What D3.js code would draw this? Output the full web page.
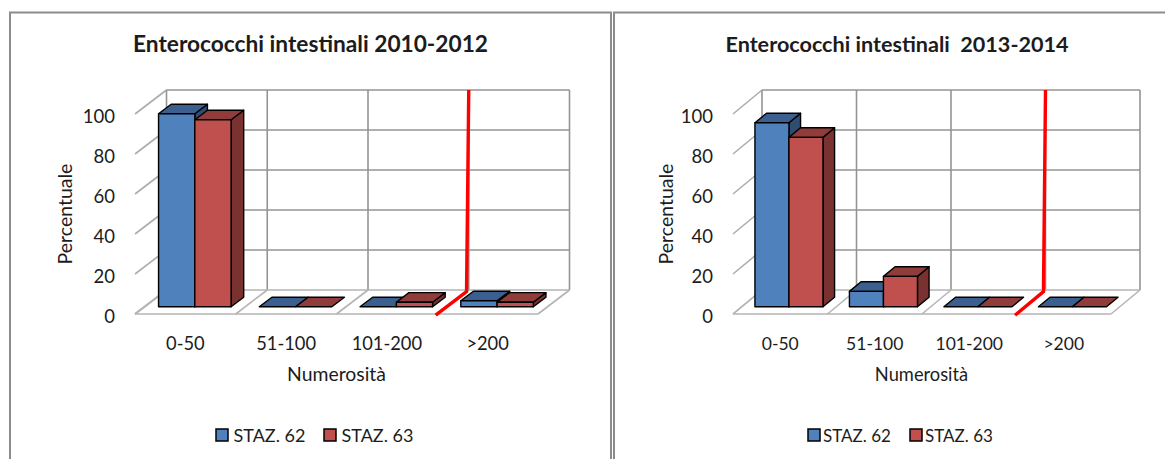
<!DOCTYPE html>
<html>
<head>
<meta charset="utf-8">
<script src="https://d3js.org/d3.v7.min.js"></script>
<style>
  html, body { margin: 0; padding: 0; background: #fff; }
  svg { display: block; }
  text { font-family: Lato, "Open Sans", sans-serif; fill: #1c1c1c; white-space: pre; }
</style>
</head>
<body>
<div id="chart"></div>
<script>
const categories = ["0-50", "51-100", "101-200", ">200"];
const seriesNames = ["STAZ. 62", "STAZ. 63"];
const yTicks = [0, 20, 40, 60, 80, 100];

const staz62First = [96.5, 0, 0, 3];
const staz63First = [93.5, 0, 2.3, 2.3];
const staz62Second = [92, 7.7, 0, 0];
const staz63Second = [84.7, 15.2, 0, 0];

const colors = {
  "STAZ. 62": {front: "#4f81bd", top: "#3b5f8e", side: "#2f4d72"},
  "STAZ. 63": {front: "#c0504d", top: "#903c3a", side: "#7a3230"}
};

const svg = d3.select("#chart").append("svg")
    .attr("width", 1165)
    .attr("height", 459);

function drawChart(config, values) {
  const g = svg.append("g");

  // panel border
  g.append("path")
      .attr("d", `M${config.frameLeft},459V12.5H${config.frameRight}V459`)
      .attr("fill", "none")
      .attr("stroke", "#8c8c8c")
      .attr("stroke-width", 2);

  const xScale = d3.scaleBand()
      .domain(categories)
      .range([config.left, config.right])
      .paddingInner(0.28)
      .paddingOuter(0.14);
  const xGroup = d3.scaleBand()
      .domain(seriesNames)
      .range([0, xScale.bandwidth()]);
  const yScale = d3.scaleLinear()
      .domain([0, 100])
      .range([314, 114]);

  // depth goes from 0 (front edge of the floor) to 1 (back wall)
  const px = (x, depth) => x + depth * config.depthX;
  const py = (v, depth) => yScale(v) - depth * 24;
  const line = (x1, v1, d1, x2, v2, d2) => `M${px(x1, d1)},${py(v1, d1)}L${px(x2, d2)},${py(v2, d2)}`;

  const step = xScale.step();
  const boundaries = d3.range(categories.length + 1).map(i => config.left + i * step);
  const gridColor = "#949494";

  const walls = g.append("g")
      .attr("fill", "none")
      .attr("stroke", gridColor)
      .attr("stroke-width", 1.6);

  yTicks.forEach(t => {
    if (t > 0) walls.append("path").attr("d", line(config.left, t, 1, config.right, t, 1));
    walls.append("path").attr("d", line(config.left, t, 0, config.left, t, 1)).attr("stroke", "#adadad");
  });
  boundaries.forEach(b => {
    walls.append("path").attr("d", line(b, 0, 0, b, 0, 1)).attr("stroke", "#b5b5b5");
    walls.append("path").attr("d", line(b, 0, 1, b, 100, 1));
  });
  walls.append("path")
      .attr("d", line(config.left, 0, 1, config.right, 0, 1))
      .attr("stroke", "#b5b5b5");
  walls.append("path")
      .attr("d", line(config.left, 0, 0, config.right, 0, 0))
      .attr("stroke", "#b5b5b5");

  // bars, left to right so the sides overlap correctly
  const d0 = 0.3, d1 = 0.7;
  categories.forEach((cat, i) => {
    seriesNames.forEach((name, s) => {
      const x0 = xScale(cat) + xGroup(name);
      const x1 = x0 + xGroup.bandwidth();
      const v = values[s][i];
      const c = colors[name];
      const bar = g.append("g").attr("stroke", "#000").attr("stroke-width", 1.4).attr("stroke-linejoin", "round");
      const poly = (pts, fill) => bar.append("polygon")
          .attr("points", pts.map(p => [px(p[0], p[2]), py(p[1], p[2])].join(",")).join(" "))
          .attr("fill", fill);
      if (v > 0) {
        poly([[x1, 0, d0], [x1, 0, d1], [x1, v, d1], [x1, v, d0]], c.side);
      }
      poly([[x0, v, d0], [x0, v, d1], [x1, v, d1], [x1, v, d0]], c.top);
      if (v > 0) {
        poly([[x0, 0, d0], [x1, 0, d0], [x1, v, d0], [x0, v, d0]], c.front);
      }
    });
  });

  // threshold line between 101-200 and >200
  const redX = boundaries[3];
  g.append("path")
      .attr("d", `M${px(redX, -0.05)},${py(0, -0.05)}L${px(redX, 0.93)},${py(0, 0.93)}L${px(redX, 1)},${py(100, 1)}`)
      .attr("fill", "none")
      .attr("stroke", "#ff0000")
      .attr("stroke-width", 3.4);

  // y axis labels
  g.append("g").selectAll("text")
    .data(yTicks)
    .join("text")
      .attr("x", config.left - 20)
      .attr("y", d => yScale(d) + 9)
      .attr("text-anchor", "end")
      .attr("font-size", 18.5)
      .text(d => d);

  // x axis labels
  g.append("g").selectAll("text")
    .data(categories)
    .join("text")
      .attr("x", d => xScale(d) + xScale.bandwidth() / 2)
      .attr("y", 349.5)
      .attr("text-anchor", "middle")
      .attr("font-size", config.xFont)
      .text(d => d);

  g.append("text")
      .attr("x", config.titleX)
      .attr("y", 52)
      .attr("text-anchor", "middle")
      .attr("font-size", config.titleFont)
      .attr("font-weight", "bold")
      .text(config.title);

  g.append("text")
      .attr("x", config.xTitleX)
      .attr("y", 381)
      .attr("text-anchor", "middle")
      .attr("font-size", config.xTitleFont)
      .text("Numerosità");

  g.append("text")
      .attr("transform", `translate(${config.yTitleX},214) rotate(-90)`)
      .attr("text-anchor", "middle")
      .attr("font-size", 19.5)
      .text("Percentuale");

  // legend
  const legend = g.append("g");
  seriesNames.forEach((name, s) => {
    const lx = config.legendX[s];
    legend.append("rect")
        .attr("x", lx)
        .attr("y", 429)
        .attr("width", 12)
        .attr("height", 12)
        .attr("fill", colors[name].front)
        .attr("stroke", "#000")
        .attr("stroke-width", 1.5);
    legend.append("text")
        .attr("x", lx + config.legendGap)
        .attr("y", 441.5)
        .attr("font-size", config.legendFont)
        .text(name);
  });
}

drawChart({
  title: "Enterococchi intestinali 2010-2012",
  frameLeft: 10, frameRight: 611,
  left: 135, right: 538, depthX: 31.5,
  titleX: 310.5, xTitleX: 336.5, yTitleX: 72,
  titleFont: 22.7, xFont: 18.3, xTitleFont: 19.4, legendFont: 18,
  legendX: [216, 324], legendGap: 17.5
}, [staz62First, staz63First]);

drawChart({
  title: "Enterococchi intestinali  2013-2014",
  frameLeft: 614, frameRight: 1166,
  left: 733, right: 1111, depthX: 29,
  titleX: 897, xTitleX: 921.5, yTitleX: 673,
  titleFont: 21.6, xFont: 17.5, xTitleFont: 18.3, legendFont: 17,
  legendX: [808, 910], legendGap: 15
}, [staz62Second, staz63Second]);
</script>
</body>
</html>
